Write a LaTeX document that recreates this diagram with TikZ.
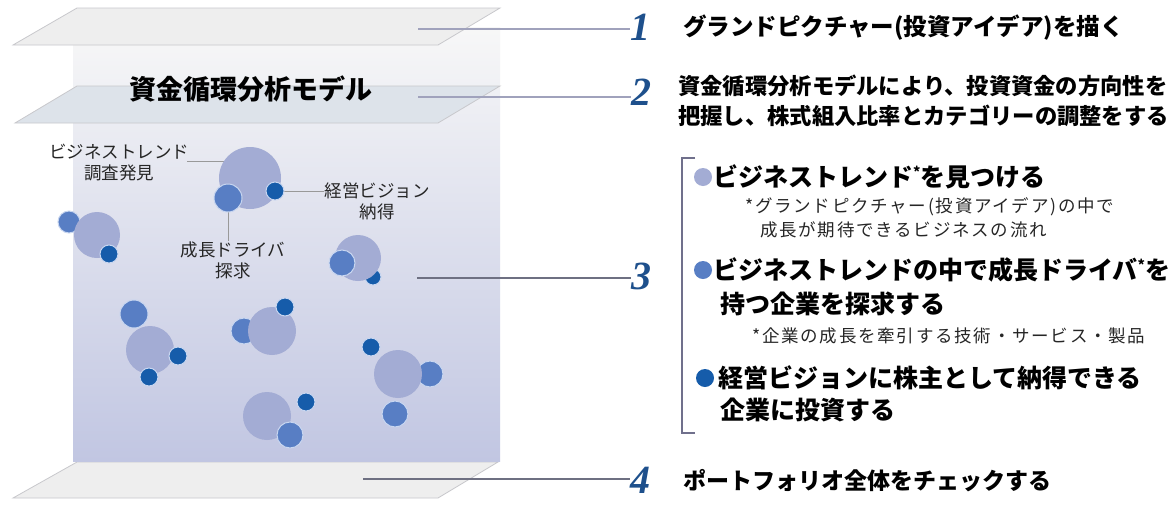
\documentclass[tikz,border=0pt]{standalone}
\usepackage{fontspec}
\newfontfamily\jp{Noto Sans CJK JP}
\newfontfamily\jpn[LetterSpace=10]{Noto Sans CJK JP}
\newfontfamily\numfont{Liberation Serif}
\definecolor{bigc}{RGB}{163,172,212}
\definecolor{midc}{RGB}{88,126,196}
\definecolor{darkc}{RGB}{22,92,170}
\definecolor{halo}{RGB}{200,214,240}
\definecolor{numc}{RGB}{30,80,140}
\definecolor{leadc}{RGB}{160,162,188}
\definecolor{leadd}{RGB}{110,112,130}
\definecolor{layerc}{RGB}{238,238,238}
\definecolor{layerb}{RGB}{221,227,234}
\definecolor{layeredge}{RGB}{200,200,204}
\definecolor{brk}{RGB}{112,112,140}
\pgfdeclarelayer{back}
\pgfdeclarelayer{front}
\pgfsetlayers{back,main,front}
\begin{document}
\begin{tikzpicture}[x=1pt,y=-1pt,
  bigdot/.style={circle,inner sep=0pt,fill=bigc,minimum size=#1},
  middot/.style={circle,inner sep=0pt,fill=midc,draw=halo,line width=1pt,minimum size=#1},
  darkdot/.style={circle,inner sep=0pt,fill=darkc,draw=halo,line width=1pt,minimum size=#1},
  layerp/.style={fill=layerc,draw=layeredge,line width=0.8pt},
  leadline/.style={draw=leadc,line width=2.2pt},
  leadthin/.style={draw=leadd,line width=1.4pt},
  labelline/.style={draw=gray!80,line width=1pt},
  numsty/.style={font=\numfont\bfseries\itshape\fontsize{40}{40}\selectfont,text=numc,inner sep=0pt,anchor=west},
  headtxt/.style={font=\jp\bfseries\fontsize{22.3}{24}\selectfont,inner sep=0pt,anchor=west},
  itemtxt/.style={font=\jp\bfseries\fontsize{25}{27}\selectfont,inner sep=0pt,anchor=west},
  notetxt/.style={font=\jpn\fontsize{17.5}{19}\selectfont,inner sep=0pt,anchor=west,text=black!85},
  lbltxt/.style={font=\jp\fontsize{17.5}{21}\selectfont,inner sep=0pt,align=center,text=black!85},
  bullet/.style={circle,inner sep=0pt,minimum size=18pt,fill=#1}
]
\useasboundingbox (0,0) rectangle (1175,507);
\begin{pgfonlayer}{back}
\fill[white] (0,0) rectangle (1175,507);
% bottom layer
\path[layerp] (13,498) -- (77,462) -- (498,462) -- (438,498) -- cycle;
% volume box
\shade[top color=black!3!white, bottom color={rgb,255:red,193;green,198;blue,226}] (73,27) rectangle (500,461);
% top layers
\path[layerp] (13,45) -- (77,8) -- (500,8) -- (438,45) -- cycle;
\path[layerp,fill=layerb] (15,123) -- (77,86) -- (500,86) -- (438,123) -- cycle;
\end{pgfonlayer}

\node[font=\jp\bfseries\fontsize{27}{30}\selectfont,inner sep=0pt] (title) at (251,89) {資金循環分析モデル};

% connector start points
\coordinate (s1) at (418,29);
\coordinate (s2) at (418,97);
\coordinate (s3) at (417,278);
\coordinate (s4) at (363,479);

% numbers
\node[numsty] (n1) at (630,27) {1};
\node[numsty] (n2) at (631,92) {2};
\node[numsty] (n3) at (631,276) {3};
\node[numsty] (n4) at (630,480) {4};

\draw[leadline] (s1) -- (s1 -| n1.west);
\draw[leadline] (s2) -- (s2 -| n2.west);
\draw[leadthin] (s3) -- (s3 -| n3.west);
\draw[leadthin] (s4) -- (s4 -| n4.west);

% labels
\node[lbltxt] (lab1) at (119,163) {ビジネストレンド\\調査発見};
\node[lbltxt] (lab2) at (377,201) {経営ビジョン\\納得};
\node[lbltxt] (lab3) at (233,260) {成長ドライバ\\探求};
\coordinate (k1) at (187,161);

\begin{pgfonlayer}{front}
% cluster 1
\node[bigdot=62pt] (b1) at (250,178) {};
\node[middot=28pt] (m1) at (228,198) {};
\node[darkdot=18pt] (d1) at (275,191) {};
% cluster 2
\node[middot=22pt] (m2) at (69,222) {};
\node[bigdot=46pt] (b2) at (97,235) {};
\node[darkdot=18pt] (d2) at (109,254) {};
% cluster 3
\node[darkdot=16pt] (d3) at (373,277) {};
\node[bigdot=46pt] (b3) at (358,258) {};
\node[middot=26pt] (m3) at (342,263) {};
% cluster 4
\node[middot=28pt] (m4) at (134,314) {};
\node[bigdot=48pt] (b4) at (150,350) {};
\node[darkdot=18pt] (d4a) at (178,356) {};
\node[darkdot=18pt] (d4b) at (149,377) {};
% cluster 5
\node[middot=26pt] (m5) at (244,331) {};
\node[bigdot=48pt] (b5) at (272,331) {};
\node[darkdot=18pt] (d5) at (285,307) {};
% cluster 6
\node[middot=26pt] (m6a) at (430,374) {};
\node[bigdot=48pt] (b6) at (398,374) {};
\node[middot=26pt] (m6b) at (395,414) {};
\node[darkdot=18pt] (d6) at (371,347) {};
% cluster 7
\node[bigdot=48pt] (b7) at (267,416) {};
\node[middot=26pt] (m7) at (290,435) {};
\node[darkdot=18pt] (d7) at (306,402) {};
\end{pgfonlayer}

% leaders (under the circles)
\draw[labelline] (k1) -- (k1 -| b1.center);
\draw[labelline] (d1.center) -- (d1 -| lab2.west);
\draw[labelline] (m1.center) -- (m1 |- lab3.north);

% right side texts
\node[headtxt,font=\jp\bfseries\fontsize{23.5}{25}\selectfont] (t1) at (683,28) {グランドピクチャー(投資アイデア)を描く};
\node[headtxt] (t2a) at (678,86) {資金循環分析モデルにより、投資資金の方向性を};
\node[headtxt] (t2b) at (678,116) {把握し、株式組入比率とカテゴリーの調整をする};

% bracket
\coordinate (bk1) at (695,158);
\coordinate (bk2) at (682,158);
\coordinate (bk3) at (682,433);
\coordinate (bk4) at (695,433);
\draw[brk,line width=2pt] (bk1) -- (bk2) -- (bk3) -- (bk4);

\node[bullet=bigc] (u1) at (703,177) {};
\node[itemtxt] (i1) at (713,177) {ビジネストレンド\raisebox{0.35em}{\fontsize{14}{14}\selectfont *}を見つける};
\node[notetxt] (o1) at (745,207) {*グランドピクチャー(投資アイデア)の中で};
\node[notetxt] (o2) at (760,230) {成長が期待できるビジネスの流れ};

\node[bullet=midc] (u2) at (703,270) {};
\node[itemtxt] (i2a) at (713,270) {ビジネストレンドの中で成長ドライバ\raisebox{0.35em}{\fontsize{14}{14}\selectfont *}を};
\node[itemtxt] (i2b) at (720,304) {持つ企業を探求する};
\node[notetxt] (o3) at (752,336) {*企業の成長を牽引する技術・サービス・製品};

\node[bullet=darkc] (u3) at (705,378) {};
\node[itemtxt] (i3a) at (718,378) {経営ビジョンに株主として納得できる};
\node[itemtxt] (i3b) at (720,410) {企業に投資する};

\node[headtxt,font=\jp\bfseries\fontsize{23}{25}\selectfont] (t4) at (683,481) {ポートフォリオ全体をチェックする};
\end{tikzpicture}
\end{document}
